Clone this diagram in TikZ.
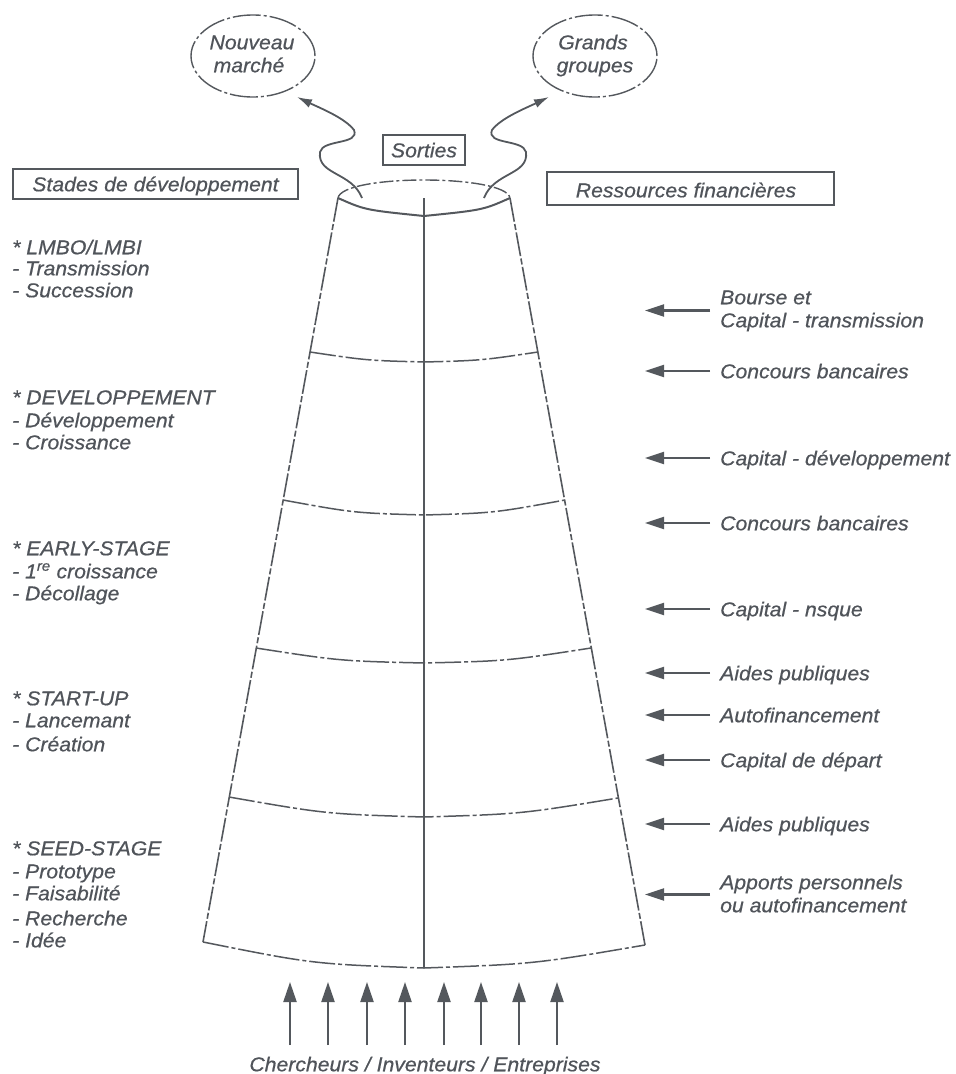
\documentclass[tikz,border=0pt]{standalone}
\usepackage{fontspec}
\setmainfont{Liberation Sans}[FakeStretch=1.06,ItalicFeatures={FakeBold=0.6}]
\usetikzlibrary{arrows.meta,shapes.geometric,calc}
\definecolor{ink}{RGB}{80,84,90}
\definecolor{lineink}{RGB}{84,88,93}
\begin{document}
\begin{tikzpicture}[x=1pt,y=-1pt,
  every node/.style={text=ink, font=\fontsize{20}{23}\selectfont\itshape},
  lbl/.style={inner sep=0pt, text height=14.5pt, text depth=0pt, anchor=west},
  clbl/.style={inner sep=0pt, text height=14.5pt, text depth=0pt},
  tbox/.style={draw=lineink, line width=1.4pt, inner sep=0pt, text height=14.5pt, text depth=0pt},
  bubble/.style={ellipse, draw=lineink, line width=1.4pt, dash pattern=on 28pt off 3pt on 3pt off 3pt, minimum width=124pt, minimum height=82pt, inner sep=0pt},
  coneside/.style={draw=lineink, line width=1.6pt, dash pattern=on 24pt off 2.5pt on 6pt off 2.5pt},
  divider/.style={draw=lineink, line width=1.5pt, dash pattern=on 26pt off 3pt on 4pt off 3pt},
  axisline/.style={draw=lineink, line width=1.7pt},
  rimback/.style={draw=lineink, line width=1.4pt, dash pattern=on 14pt off 3pt on 3pt off 3pt},
  rimfront/.style={draw=lineink, line width=2pt},
  feed/.style={draw=lineink, line width=2.2pt, -{Triangle[length=20pt,width=13pt]}},
  fin/.style={draw=lineink, line width=2.2pt, -{Triangle[length=19pt,width=12pt]}},
  exitarrow/.style={draw=lineink, line width=1.8pt, -{Latex[length=15pt,width=9pt]}}
]
\useasboundingbox (0,0) rectangle (956,1074);

% ---- exits ----
\node[bubble] (nm) at (253,56) {};
\node[clbl] (nmt1) at (252,42) {Nouveau};
\node[clbl] (nmt2) at (249,65) {marché};
\node[bubble] (gg) at (595,56) {};
\node[clbl] (ggt1) at (593,42) {Grands};
\node[clbl] (ggt2) at (595,65) {groupes};
\node[tbox, minimum width=82pt, minimum height=30pt] (sorties) at (424,150) {Sorties};

% ---- header boxes ----
\node[tbox, minimum width=285pt, minimum height=30pt] (stades) at (155.5,184) {Stades de développement};
\node[tbox, minimum width=287pt, minimum height=33pt] (ressbox) at (690.5,188.5) {};
\node[clbl] (resst) at (686,190) {Ressources financières};

% ---- cone ----
\coordinate (tl) at (338,198);
\coordinate (tr) at (510,198);
\coordinate (bl) at (203,942);
\coordinate (br) at (645,945);
\coordinate (bc) at (424,968);
\coordinate (tc) at (424,198);
\draw[rimback] (tl) .. controls (342,174) and (506,174) .. (tr);
\draw[rimfront] (tl) .. controls (365,210) .. (424,216) .. controls (483,210) .. (tr);
\draw[coneside] (tl) -- (bl);
\draw[coneside] (tr) -- (br);
\draw[axisline] (tc) -- (bc);

% dividers
\draw[divider] (310,352) .. controls (367,360.5) .. (424,362) .. controls (481,360.5) .. (538,352);
\draw[divider] (283,500) .. controls (354,513) .. (424,515) .. controls (494,513) .. (565,500);
\draw[divider] (256,648) .. controls (340,661) .. (424,663) .. controls (507,661) .. (591,648);
\draw[divider] (229,797) .. controls (326,814) .. (424,817) .. controls (521,814) .. (618,798);
\draw[divider] (bl) .. controls (313,964) .. (bc) .. controls (534,964) .. (br);

% exit connectors
\coordinate (exL) at (362,198);
\coordinate (tipL) at (297,97);
\coordinate (exR) at (484,198);
\coordinate (tipR) at (549,97);
\draw[exitarrow] (exL) .. controls (352,172) and (317,175) .. (320,152)
   .. controls (323,139) and (360,145) .. (354,130)
   .. controls (345,118) and (320,108) .. (tipL);
\draw[exitarrow] (exR) .. controls (494,172) and (529,175) .. (526,152)
   .. controls (523,139) and (486,145) .. (492,130)
   .. controls (501,118) and (526,108) .. (tipR);

% ---- left column ----
\node[lbl] (s1a) at (12,247) {* LMBO/LMBI};
\node[lbl] (s1b) at (12,268) {- Transmission};
\node[lbl] (s1c) at (12,290) {- Succession};
\node[lbl] (s2a) at (12,397) {* DEVELOPPEMENT};
\node[lbl] (s2b) at (12,420) {- Développement};
\node[lbl] (s2c) at (12,442) {- Croissance};
\node[lbl] (s3a) at (12,548) {* EARLY-STAGE};
\node[lbl] (s3b) at (12,571) {- 1\textsuperscript{re} croissance};
\node[lbl] (s3c) at (12,593) {- Décollage};
\node[lbl] (s4a) at (12,698) {* START-UP};
\node[lbl] (s4b) at (12,720) {- Lancemant};
\node[lbl] (s4c) at (12,744) {- Création};
\node[lbl] (s5a) at (12,848) {* SEED-STAGE};
\node[lbl] (s5b) at (12,871) {- Prototype};
\node[lbl] (s5c) at (12,893) {- Faisabilité};
\node[lbl] (s5d) at (12,918) {- Recherche};
\node[lbl] (s5e) at (12,940) {- Idée};

% ---- right column ----
\node[lbl] (r1a) at (720,297) {Bourse et};
\node[lbl] (r1b) at (720,320) {Capital - transmission};
\node[lbl] (r2) at (720,371) {Concours bancaires};
\node[lbl] (r3) at (720,458) {Capital - développement};
\node[lbl] (r4) at (720,523) {Concours bancaires};
\node[lbl] (r5) at (720,609) {Capital - nsque};
\node[lbl] (r6) at (720,673) {Aides publiques};
\node[lbl] (r7) at (720,715) {Autofinancement};
\node[lbl] (r8) at (720,760) {Capital de départ};
\node[lbl] (r9) at (720,824) {Aides publiques};
\node[lbl] (r10a) at (720,882) {Apports personnels};
\node[lbl] (r10b) at (720,905) {ou autofinancement};

\draw[fin] ($(r1a.west)!0.5!(r1b.west)+(-10,2)$) -- ++(-65,0);
\foreach \n in {r2,r3,r4,r5,r6,r7,r8,r9}
  \draw[fin] ([xshift=-10pt]\n.west) -- ++(-65,0);
\draw[fin] ($(r10a.west)!0.5!(r10b.west)+(-10,1)$) -- ++(-65,0);

% ---- bottom ----
\node[clbl] (src) at (425,1064) {Chercheurs / Inventeurs / Entreprises};
\foreach \x in {290,328,367,405,444,481,519,557}
  \draw[feed] (\x,1045) coordinate (fb\x) -- (\x,982) coordinate (ft\x);
\end{tikzpicture}
\end{document}
